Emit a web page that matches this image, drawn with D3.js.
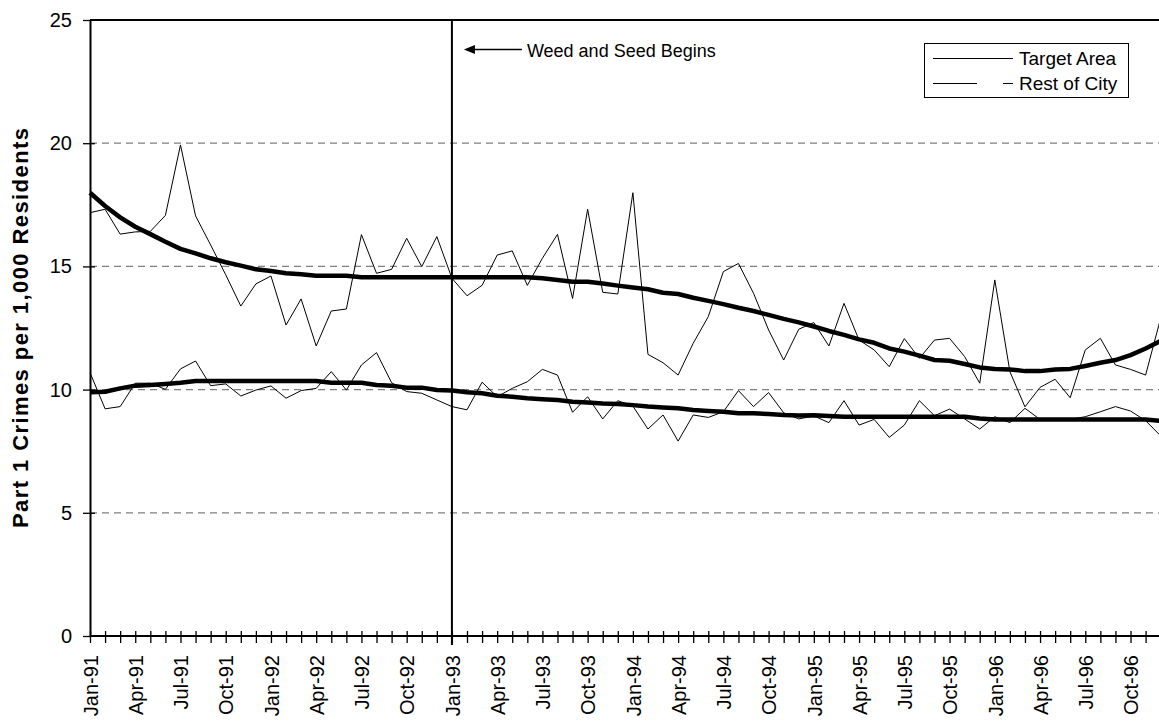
<!DOCTYPE html>
<html><head><meta charset="utf-8">
<script src="https://cdn.jsdelivr.net/npm/d3@7"></script>
<style>
body{margin:0;background:#fff}
svg{display:block}
text{font-family: Arial, "Liberation Sans", sans-serif; fill:#000}
</style>
</head><body><svg id="chart" width="1159" height="723"></svg>
<script>
// ---- data ----
const monthNames = ["Jan","Feb","Mar","Apr","May","Jun","Jul","Aug","Sep","Oct","Nov","Dec"];
const years = ["91","92","93","94","95","96"];
const categories = years.flatMap(yr => monthNames.map(m => m + "-" + yr));
const labelMonths = ["Jan","Apr","Jul","Oct"];
const yTicks = [0,5,10,15,20,25];

const targetArea = [17.18,17.32,16.31,16.40,16.42,17.07,19.93,17.05,15.87,14.66,13.39,14.29,
  14.61,12.62,13.68,11.77,13.19,13.27,16.29,14.72,14.88,16.14,14.99,16.21,
  14.52,13.81,14.23,15.46,15.63,14.23,15.33,16.30,13.70,17.32,13.95,13.88,
  17.99,11.43,11.09,10.59,11.88,12.96,14.79,15.12,13.91,12.42,11.20,12.45,
  12.72,11.77,13.50,12.01,11.61,10.93,12.07,11.27,12.01,12.08,11.34,10.26,
  14.45,10.73,9.30,10.09,10.42,9.67,11.61,12.08,11.00,10.82,10.59,12.90];
const restOfCity = [10.69,9.22,9.31,10.26,10.26,10.01,10.84,11.16,10.16,10.23,9.74,9.98,
  10.15,9.65,9.96,10.05,10.73,9.98,11.00,11.50,10.28,9.92,9.85,9.58,
  9.31,9.18,10.30,9.71,10.05,10.32,10.82,10.59,9.08,9.71,8.81,9.55,
  9.33,8.40,8.97,7.91,8.97,8.87,9.10,9.96,9.31,9.88,9.06,8.81,
  8.93,8.66,9.55,8.56,8.79,8.06,8.56,9.55,8.94,9.21,8.81,8.40,
  8.90,8.66,9.24,8.79,8.79,8.79,8.90,9.10,9.31,9.13,8.74,8.12];
const targetTrend = [17.99,17.45,16.99,16.61,16.31,16.00,15.71,15.53,15.33,15.17,15.03,14.88,
  14.81,14.72,14.68,14.62,14.62,14.62,14.56,14.56,14.56,14.56,14.56,14.56,
  14.56,14.56,14.56,14.56,14.56,14.56,14.52,14.45,14.38,14.38,14.31,14.22,
  14.14,14.07,13.93,13.88,13.73,13.60,13.47,13.32,13.19,13.03,12.87,12.73,
  12.56,12.38,12.22,12.04,11.90,11.67,11.54,11.38,11.20,11.17,11.04,10.90,
  10.84,10.82,10.75,10.75,10.82,10.84,10.96,11.09,11.20,11.40,11.67,11.98];
const restTrend = [9.89,9.91,10.05,10.16,10.19,10.23,10.28,10.35,10.35,10.35,10.35,10.35,
  10.35,10.35,10.35,10.35,10.28,10.28,10.28,10.19,10.16,10.08,10.08,9.98,
  9.96,9.89,9.85,9.75,9.71,9.65,9.61,9.58,9.51,9.48,9.44,9.42,
  9.37,9.31,9.27,9.24,9.17,9.13,9.10,9.04,9.04,9.01,8.97,8.95,
  8.96,8.93,8.90,8.90,8.90,8.90,8.90,8.90,8.90,8.90,8.90,8.83,
  8.79,8.79,8.79,8.79,8.79,8.79,8.79,8.79,8.79,8.79,8.79,8.73];
const eventMonth = "Jan-93";
const eventLabel = "Weed and Seed Begins";
const seriesNames = ["Target Area","Rest of City"];
const yTitle = "Part 1 Crimes per 1,000 Residents";

// ---- layout ----
const svg = d3.select("#chart");
const plotLeft = 90, step = 15.08, plotTop = 20, plotBottom = 636, plotRight = 1175;
const x = d3.scalePoint().domain(categories).range([plotLeft, plotLeft + step*(categories.length-1)]);
const y = d3.scaleLinear().domain([0,25]).range([plotBottom, plotTop]);

// gridlines
svg.append("g").selectAll("line").data(yTicks.filter(v => v>0 && v<25)).join("line")
  .attr("x1", plotLeft).attr("x2", plotRight)
  .attr("y1", d => y(d)).attr("y2", d => y(d))
  .attr("stroke", "#808080").attr("stroke-width", 1.2).attr("stroke-dasharray", "7,5");

// top border
svg.append("line").attr("x1", plotLeft).attr("x2", plotRight).attr("y1", y(25)).attr("y2", y(25))
  .attr("stroke", "#000").attr("stroke-width", 2);

// y axis
const gy = svg.append("g").attr("transform", `translate(${plotLeft},0)`)
  .call(d3.axisLeft(y).tickValues(yTicks).tickSizeInner(7).tickSizeOuter(0).tickPadding(11));
gy.select(".domain").attr("stroke-width", 2);
gy.selectAll(".tick line").attr("x1", d => (d===0||d===25) ? 0 : 5).attr("stroke-width", 1.3);
gy.selectAll(".tick text").style("font-size", "20px").style("font-family", "Arial, 'Liberation Sans', sans-serif");

// x axis
const gx = svg.append("g").attr("transform", `translate(0,${plotBottom})`)
  .call(d3.axisBottom(x).tickSizeInner(7).tickSizeOuter(0)
    .tickFormat(c => labelMonths.includes(c.slice(0,3)) ? c : ""));
gx.select(".domain").attr("stroke-width", 2).attr("d", `M${plotLeft},0H1159`);
gx.selectAll(".tick line").attr("y1", -5).attr("stroke-width", 1.3);
gx.selectAll(".tick text")
  .style("font-size", "20px").style("font-family", "Arial, 'Liberation Sans', sans-serif")
  .attr("transform", "rotate(-90)").attr("text-anchor", "end")
  .attr("x", -19).attr("y", 0).attr("dy", "0.36em");

// event vertical line
svg.append("line").attr("x1", x(eventMonth)).attr("x2", x(eventMonth))
  .attr("y1", y(25)).attr("y2", plotBottom + 9)
  .attr("stroke", "#000").attr("stroke-width", 2);

// series lines
const line = d3.line().x((d,i) => x(categories[i])).y(d => y(d));
svg.append("path").datum(targetArea).attr("d", line)
  .attr("fill", "none").attr("stroke", "#000").attr("stroke-width", 1);
svg.append("path").datum(restOfCity).attr("d", line)
  .attr("fill", "none").attr("stroke", "#000").attr("stroke-width", 1);
svg.append("path").datum(targetTrend).attr("d", line)
  .attr("fill", "none").attr("stroke", "#000").attr("stroke-width", 4.5).attr("stroke-linejoin", "round");
svg.append("path").datum(restTrend).attr("d", line)
  .attr("fill", "none").attr("stroke", "#000").attr("stroke-width", 4.5).attr("stroke-linejoin", "round");

// annotation arrow
const ex = x(eventMonth);
const ay = 49.5;
svg.append("line").attr("x1", ex + 20).attr("x2", ex + 70).attr("y1", ay).attr("y2", ay)
  .attr("stroke", "#000").attr("stroke-width", 1.5);
svg.append("path").attr("d", `M${ex+12},${ay} L${ex+23},${ay-4.5} L${ex+23},${ay+4.5} Z`).attr("fill", "#000");
svg.append("text").attr("x", ex + 75).attr("y", 57).style("font-size", "18px").text(eventLabel);

// legend
const lg = svg.append("g");
lg.append("rect").attr("x", 924.5).attr("y", 43.5).attr("width", 204).attr("height", 54)
  .attr("fill", "#fff").attr("stroke", "#000").attr("stroke-width", 1);
lg.append("line").attr("x1", 933).attr("x2", 1013).attr("y1", 58.5).attr("y2", 58.5)
  .attr("stroke", "#000").attr("stroke-width", 1);
lg.append("line").attr("x1", 933).attr("x2", 1013).attr("y1", 83.5).attr("y2", 83.5)
  .attr("stroke", "#000").attr("stroke-width", 1).attr("stroke-dasharray", "44,26,10");
lg.append("text").attr("x", 1019).attr("y", 65).style("font-size", "19px").text(seriesNames[0]);
lg.append("text").attr("x", 1019).attr("y", 90).style("font-size", "19px").text(seriesNames[1]);

// y title
svg.append("text").attr("transform", `translate(28,${(plotTop+plotBottom)/2}) rotate(-90)`)
  .attr("text-anchor", "middle").style("font-size", "22px").style("font-weight", "bold")
  .attr("textLength", 400).attr("lengthAdjust", "spacing")
  .text(yTitle);
</script></body></html>
